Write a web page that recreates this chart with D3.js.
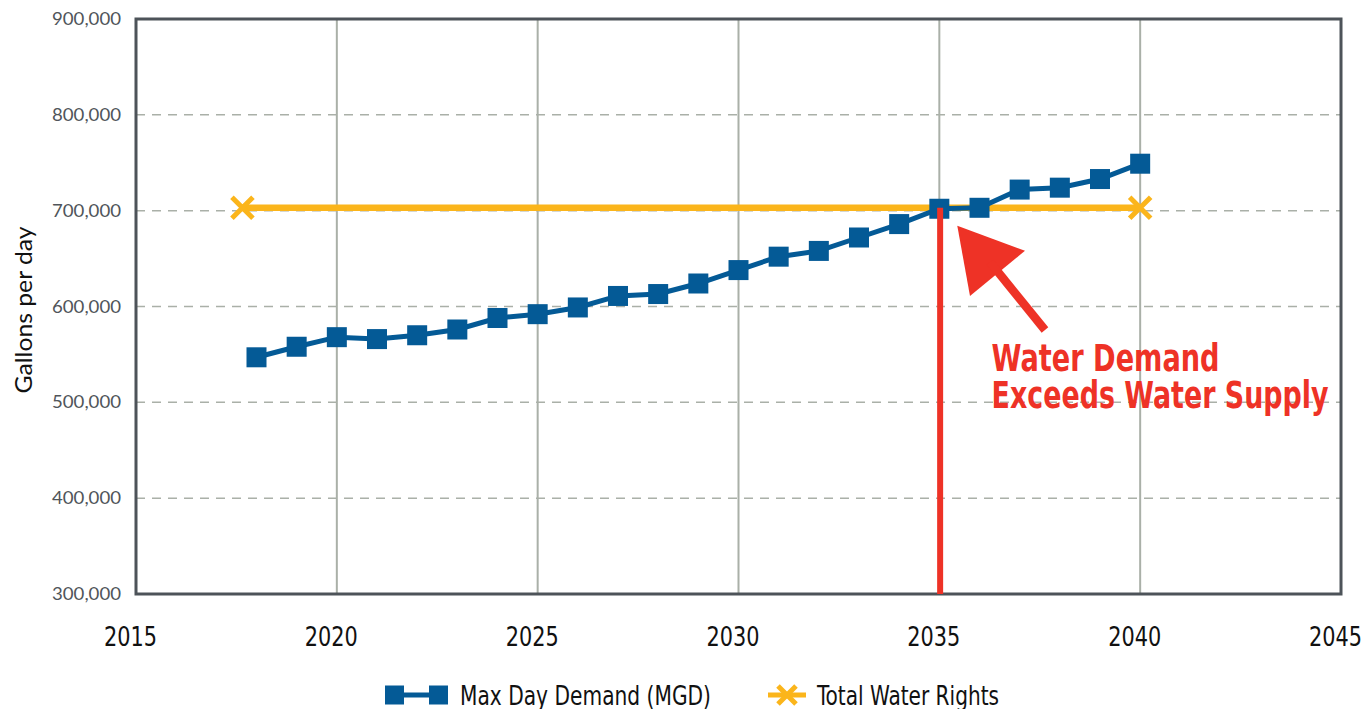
<!DOCTYPE html>
<html><head><meta charset="utf-8">
<script src="https://cdn.jsdelivr.net/npm/d3@7"></script>
<style>
html,body{margin:0;padding:0;background:#fff;}
svg{display:block;}
</style></head>
<body>
<svg id="chart" width="1365" height="709"></svg>
<script>
// ---- data ----
const years = [2018,2019,2020,2021,2022,2023,2024,2025,2026,2027,2028,2029,2030,2031,2032,2033,2034,2035,2036,2037,2038,2039,2040];
const demand = [547000,558000,568000,566000,570000,576000,588000,592000,599000,611000,613000,624000,638000,652000,658000,672000,686000,702000,703000,722000,724000,733000,749000];
const rightsYears = [2017.65, 2040];
const rightsValues = [703000, 703000];
const xTicks = [2015,2020,2025,2030,2035,2040,2045];
const yTicks = [300000,400000,500000,600000,700000,800000,900000];
const seriesNames = ["Max Day Demand (MGD)", "Total Water Rights"];
const annotationLines = ["Water Demand", "Exceeds Water Supply"];
const crossingYear = 2035.02;

const svg = d3.select("#chart");
const L = 136, R = 1341, T = 19, B = 594;
const x = d3.scaleLinear().domain([2015,2045]).range([L,R]);
const y = d3.scaleLinear().domain([300000,900000]).range([B,T]);

const blue = "#045A96", yellow = "#FBB51B", red = "#EE3226", grid = "#AAB0A8";

// horizontal dashed grid
svg.append("g").selectAll("line").data(yTicks.slice(1,-1)).join("line")
  .attr("x1", L).attr("x2", R).attr("y1", d=>y(d)).attr("y2", d=>y(d))
  .attr("stroke", grid).attr("stroke-width", 1.5).attr("stroke-dasharray", "9,7");
// vertical solid grid
svg.append("g").selectAll("line").data(xTicks.slice(1,-1)).join("line")
  .attr("x1", d=>x(d)).attr("x2", d=>x(d)).attr("y1", T).attr("y2", B)
  .attr("stroke", grid).attr("stroke-width", 2);

// frame
svg.append("rect").attr("x", L).attr("y", T).attr("width", R-L).attr("height", B-T)
  .attr("fill", "none").attr("stroke", "#4D5359").attr("stroke-width", 3);

// y axis labels
const yAxis = d3.axisLeft(y).tickValues(yTicks).tickSize(0).tickPadding(15)
  .tickFormat(d3.format(","));
const gy = svg.append("g").attr("transform", `translate(${L},0)`).call(yAxis);
gy.select(".domain").remove();
gy.selectAll("text").attr("font-family", "Lato, 'Open Sans', sans-serif")
  .attr("font-size", 17.5).attr("fill", "#50555A").attr("textLength", 69).attr("lengthAdjust","spacingAndGlyphs");

// x axis labels
const xAxis = d3.axisBottom(x).tickValues(xTicks).tickSize(0).tickPadding(0).tickFormat(d3.format("d"));
const gx = svg.append("g").attr("transform", `translate(0,${B})`).call(xAxis);
gx.select(".domain").remove();
gx.selectAll("text").attr("y", 52).attr("dy", 0).attr("dx", -6)
  .attr("font-family", "'DejaVu Sans Condensed', 'Liberation Sans Narrow', sans-serif")
  .attr("font-size", 27).attr("fill", "#111").attr("textLength", 53).attr("lengthAdjust","spacingAndGlyphs");

// y axis title
svg.append("text").attr("transform", `translate(32,310) rotate(-90)`)
  .attr("text-anchor", "middle").attr("font-family", "Lato, 'Open Sans', sans-serif")
  .attr("font-size", 23).attr("fill", "#111").attr("textLength", 167).attr("lengthAdjust","spacingAndGlyphs")
  .text("Gallons per day");

// water rights line
const rights = rightsYears.map((d,i)=>({x:d, y:rightsValues[i]}));
svg.append("path").datum(rights)
  .attr("d", d3.line().x(d=>x(d.x)).y(d=>y(d.y)))
  .attr("fill","none").attr("stroke", yellow).attr("stroke-width", 6.5);
const xMark = (g, s) => g.append("path")
  .attr("d", `M${-s},${-s}L${s},${s}M${-s},${s}L${s},${-s}`)
  .attr("stroke", yellow).attr("stroke-width", 5).attr("fill","none");
rights.forEach(d => xMark(svg.append("g").attr("transform", `translate(${x(d.x)},${y(d.y)})`), 10.5));

// demand line
const dem = years.map((d,i)=>({x:d, y:demand[i]}));
svg.append("path").datum(dem)
  .attr("d", d3.line().x(d=>x(d.x)).y(d=>y(d.y)))
  .attr("fill","none").attr("stroke", blue).attr("stroke-width", 5);
svg.append("g").selectAll("rect").data(dem).join("rect")
  .attr("x", d=>x(d.x)-10).attr("y", d=>y(d.y)-10).attr("width", 20).attr("height", 20)
  .attr("fill", blue);

// red vertical line
svg.append("line").attr("x1", x(crossingYear)).attr("x2", x(crossingYear))
  .attr("y1", y(rightsValues[0])).attr("y2", B)
  .attr("stroke", red).attr("stroke-width", 6);

// arrow (data coordinates)
const head = [[2035.447,684300],[2037.133,658200],[2035.763,611000]];
svg.append("path").attr("d", "M" + head.map(p=>[x(p[0]),y(p[1])].join(",")).join("L") + "Z")
  .attr("fill", red);
svg.append("line").attr("x1", x(2036.26)).attr("y1", y(646400)).attr("x2", x(2037.63)).attr("y2", y(575500))
  .attr("stroke", red).attr("stroke-width", 8.5);

// annotation text
const annX = x(2036.3);
const ann = svg.append("g").attr("font-family", "'DejaVu Sans Condensed', 'Liberation Sans Narrow', sans-serif")
  .attr("font-weight", "bold").attr("font-size", 37).attr("fill", red);
ann.append("text").attr("x", annX).attr("y", y(533000)).attr("textLength", 228).attr("lengthAdjust","spacingAndGlyphs").text(annotationLines[0]);
ann.append("text").attr("x", annX).attr("y", y(494000)).attr("textLength", 337).attr("lengthAdjust","spacingAndGlyphs").text(annotationLines[1]);

// legend
const ly = 695;
const lg = svg.append("g");
lg.append("line").attr("x1", 394).attr("x2", 438).attr("y1", ly).attr("y2", ly).attr("stroke", blue).attr("stroke-width", 5);
lg.append("rect").attr("x", 385).attr("y", ly-9.5).attr("width", 19).attr("height", 19).attr("fill", blue);
lg.append("rect").attr("x", 429).attr("y", ly-9.5).attr("width", 19).attr("height", 19).attr("fill", blue);
lg.append("line").attr("x1", 768).attr("x2", 806).attr("y1", ly).attr("y2", ly).attr("stroke", yellow).attr("stroke-width", 5);
xMark(lg.append("g").attr("transform", `translate(787,${ly})`), 9);
const lt = lg.append("g").attr("font-family", "'DejaVu Sans Condensed', 'Liberation Sans Narrow', sans-serif")
  .attr("font-size", 26).attr("fill", "#111");
lt.append("text").attr("x", 460).attr("y", ly+9.5).attr("textLength", 251).attr("lengthAdjust","spacingAndGlyphs").text(seriesNames[0]);
lt.append("text").attr("x", 817).attr("y", ly+9.5).attr("textLength", 182).attr("lengthAdjust","spacingAndGlyphs").text(seriesNames[1]);
</script>
</body></html>
